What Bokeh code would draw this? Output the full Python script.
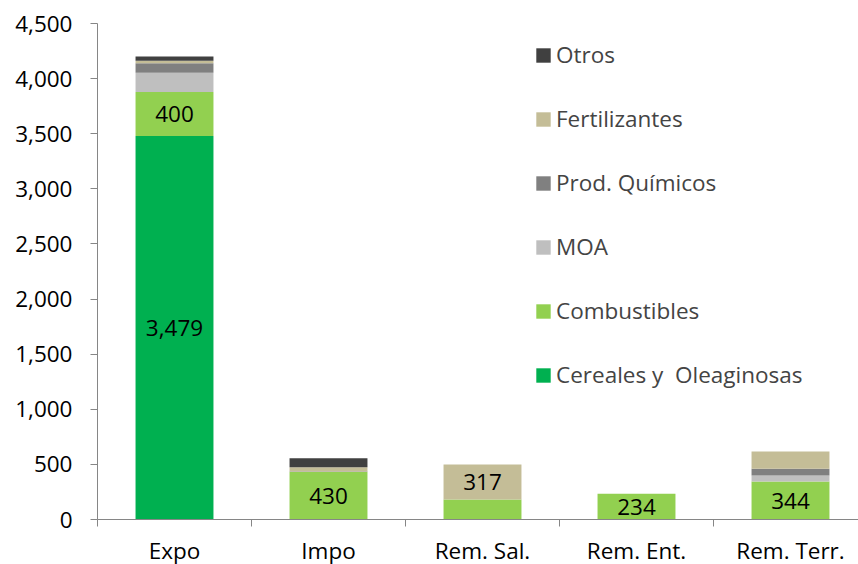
from bokeh.plotting import figure
from bokeh.models import Range1d, FixedTicker, Legend, LegendItem, ColumnDataSource, NumeralTickFormatter
from bokeh.core.properties import value
from bokeh.embed import file_html
from bokeh.resources import INLINE

categories = ["Expo", "Impo", "Rem. Sal.", "Rem. Ent.", "Rem. Terr."]
series = ["Cereales y  Oleaginosas", "Combustibles", "MOA", "Prod. Químicos", "Fertilizantes", "Otros"]
cereales = [3479, 0, 0, 0, 0]
combustibles = [400, 430, 182, 234, 344]
moa = [175, 0, 0, 0, 55]
prod_quimicos = [85, 5, 0, 0, 61]
fertilizantes = [24, 40, 317, 0, 157]
otros = [37, 80, 0, 0, 0]
colors = ["#00B050", "#92D050", "#BFBFBF", "#808080", "#C4BD97", "#404040"]
y_ticks = [0, 500, 1000, 1500, 2000, 2500, 3000, 3500, 4000, 4500]

# labelled segments: (category index, series index)
label_cat_idx = [0, 0, 1, 2, 3, 4]
label_ser_idx = [0, 1, 1, 4, 1, 1]

FONT = "Open Sans"
FS = "22.5px"
values_by_series = [cereales, combustibles, moa, prod_quimicos, fertilizantes, otros]
keys = ["s%d" % i for i in range(len(series))]

xs = [i + 0.5 for i in range(len(categories))]
data = {"x": xs}
for k, v in zip(keys, values_by_series):
    data[k] = v
src = ColumnDataSource(data)

p = figure(frame_width=761, frame_height=496, output_backend="svg", toolbar_location=None,
           x_range=Range1d(0, 761 / 154), y_range=Range1d(0, 4500),
           min_border_left=97, min_border_right=0, min_border_top=23, min_border_bottom=10)
p.outline_line_color = None
p.xgrid.grid_line_color = None
p.ygrid.grid_line_color = None
p.background_fill_color = "white"

renderers = p.vbar_stack(keys, x="x", width=0.506, color=colors, source=src, line_color=None)

# labels
lx, ly, lt = [], [], []
for ci, si in zip(label_cat_idx, label_ser_idx):
    base = sum(values_by_series[j][ci] for j in range(si))
    v = values_by_series[si][ci]
    lx.append(xs[ci])
    ly.append(base + v / 2)
    lt.append(f"{v:,}")
p.text(x=lx, y=ly, text=lt, text_align="center", text_baseline="middle",
       text_font=value(FONT), text_font_size=FS, text_color="black")

# axes
p.yaxis.ticker = FixedTicker(ticks=y_ticks)
p.yaxis.formatter = NumeralTickFormatter(format="0,0")
p.yaxis.axis_line_color = "#868686"
p.yaxis.major_tick_line_color = "#868686"
p.yaxis.major_tick_out = 7
p.yaxis.major_tick_in = 0
p.yaxis.minor_tick_line_color = None
p.yaxis.major_label_text_font = FONT
p.yaxis.major_label_text_font_size = FS
p.yaxis.major_label_text_color = "black"
p.yaxis.major_label_standoff = 18

p.xaxis.ticker = FixedTicker(ticks=xs, minor_ticks=[0, 1, 2, 3, 4, 5])
p.xaxis.major_label_overrides = {x: c for x, c in zip(xs, categories)}
p.xaxis.axis_line_color = "#868686"
p.xaxis.major_tick_line_color = None
p.xaxis.minor_tick_line_color = "#868686"
p.xaxis.minor_tick_out = 7
p.xaxis.minor_tick_in = 0
p.xaxis.major_label_text_font = FONT
p.xaxis.major_label_text_font_size = FS
p.xaxis.major_label_text_color = "black"
p.xaxis.major_label_standoff = 8

items = [LegendItem(label=series[i], renderers=[renderers[i]]) for i in reversed(range(len(series)))]
legend = Legend(items=items, location=(437, 129), orientation="vertical",
                glyph_width=18, glyph_height=18, label_height=20, spacing=33,
                padding=0, margin=0, border_line_color=None, background_fill_alpha=0,
                label_text_font=FONT, label_text_font_size=FS, label_standoff=4)
p.add_layout(legend, "center")

open("out.html", "w").write(file_html(p, INLINE))
